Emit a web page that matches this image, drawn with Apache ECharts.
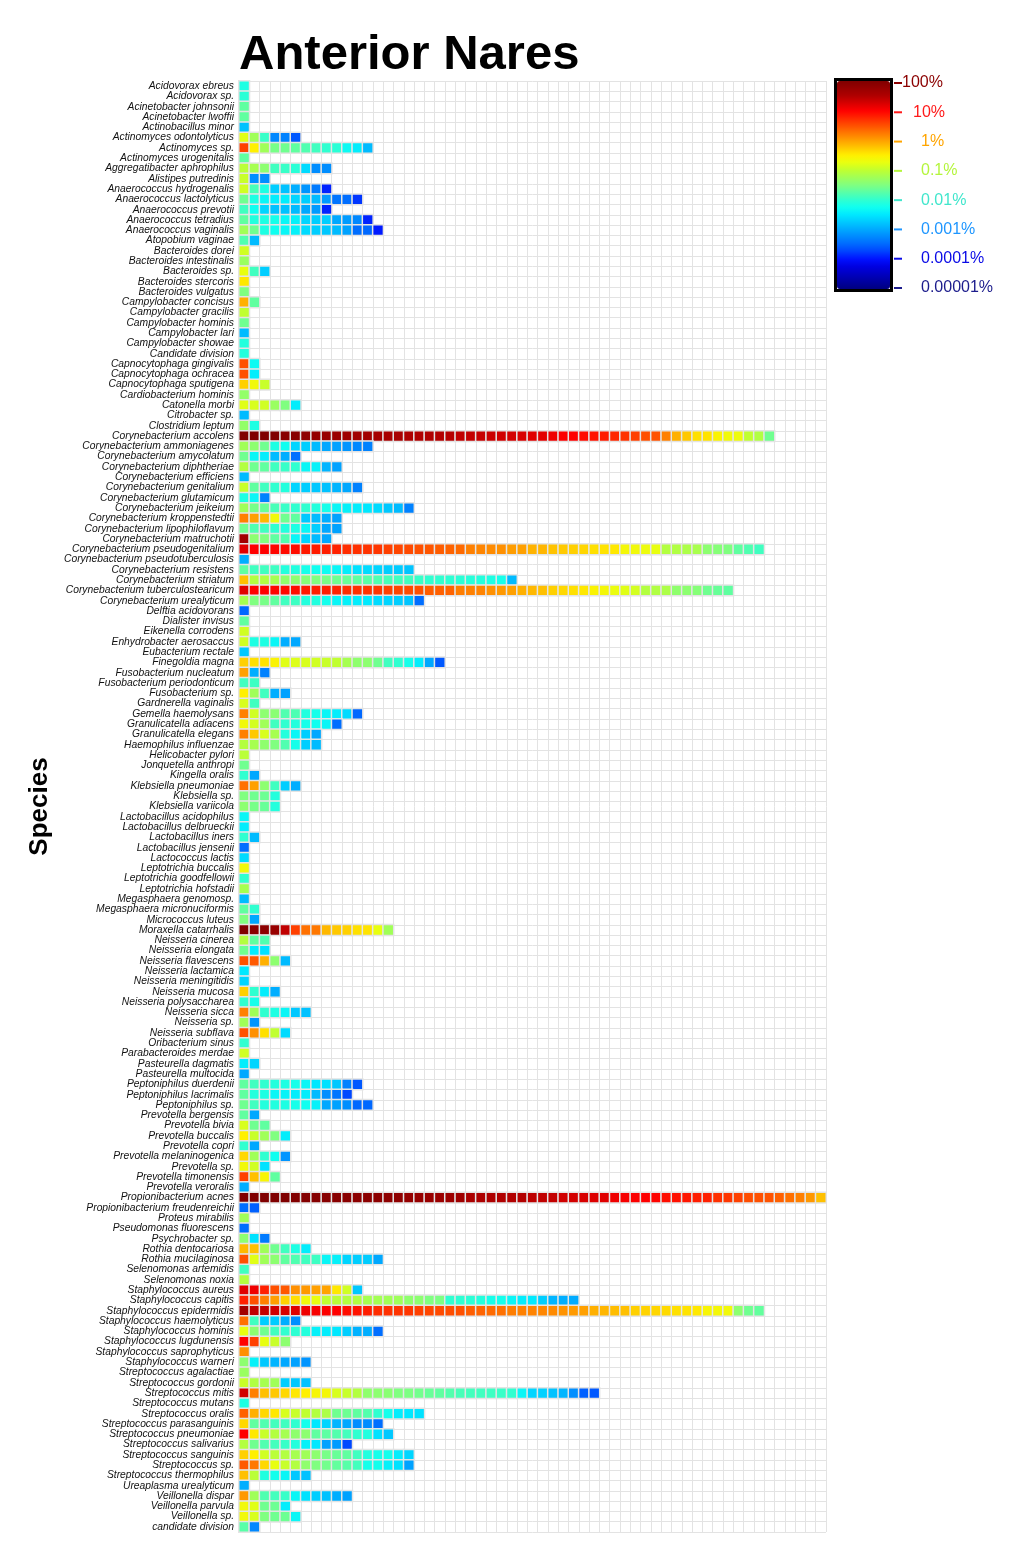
<!DOCTYPE html>
<html><head><meta charset="utf-8">
<script src="https://cdn.jsdelivr.net/npm/echarts@6/dist/echarts.min.js"></script>
<style>html,body{margin:0;padding:0;background:#fff}#c{width:1020px;height:1558px}</style>
</head><body><div id="c"></div>
<script>
// Species (rows, top to bottom)
const species = [
'Acidovorax ebreus','Acidovorax sp.','Acinetobacter johnsonii','Acinetobacter lwoffii','Actinobacillus minor',
'Actinomyces odontolyticus','Actinomyces sp.','Actinomyces urogenitalis','Aggregatibacter aphrophilus','Alistipes putredinis',
'Anaerococcus hydrogenalis','Anaerococcus lactolyticus','Anaerococcus prevotii','Anaerococcus tetradius','Anaerococcus vaginalis',
'Atopobium vaginae','Bacteroides dorei','Bacteroides intestinalis','Bacteroides sp.','Bacteroides stercoris',
'Bacteroides vulgatus','Campylobacter concisus','Campylobacter gracilis','Campylobacter hominis','Campylobacter lari',
'Campylobacter showae','Candidate division','Capnocytophaga gingivalis','Capnocytophaga ochracea','Capnocytophaga sputigena',
'Cardiobacterium hominis','Catonella morbi','Citrobacter sp.','Clostridium leptum','Corynebacterium accolens',
'Corynebacterium ammoniagenes','Corynebacterium amycolatum','Corynebacterium diphtheriae','Corynebacterium efficiens','Corynebacterium genitalium',
'Corynebacterium glutamicum','Corynebacterium jeikeium','Corynebacterium kroppenstedtii','Corynebacterium lipophiloflavum','Corynebacterium matruchotii',
'Corynebacterium pseudogenitalium','Corynebacterium pseudotuberculosis','Corynebacterium resistens','Corynebacterium striatum','Corynebacterium tuberculostearicum',
'Corynebacterium urealyticum','Delftia acidovorans','Dialister invisus','Eikenella corrodens','Enhydrobacter aerosaccus',
'Eubacterium rectale','Finegoldia magna','Fusobacterium nucleatum','Fusobacterium periodonticum','Fusobacterium sp.',
'Gardnerella vaginalis','Gemella haemolysans','Granulicatella adiacens','Granulicatella elegans','Haemophilus influenzae',
'Helicobacter pylori','Jonquetella anthropi','Kingella oralis','Klebsiella pneumoniae','Klebsiella sp.',
'Klebsiella variicola','Lactobacillus acidophilus','Lactobacillus delbrueckii','Lactobacillus iners','Lactobacillus jensenii',
'Lactococcus lactis','Leptotrichia buccalis','Leptotrichia goodfellowii','Leptotrichia hofstadii','Megasphaera genomosp.',
'Megasphaera micronuciformis','Micrococcus luteus','Moraxella catarrhalis','Neisseria cinerea','Neisseria elongata',
'Neisseria flavescens','Neisseria lactamica','Neisseria meningitidis','Neisseria mucosa','Neisseria polysaccharea',
'Neisseria sicca','Neisseria sp.','Neisseria subflava','Oribacterium sinus','Parabacteroides merdae',
'Pasteurella dagmatis','Pasteurella multocida','Peptoniphilus duerdenii','Peptoniphilus lacrimalis','Peptoniphilus sp.',
'Prevotella bergensis','Prevotella bivia','Prevotella buccalis','Prevotella copri','Prevotella melaninogenica',
'Prevotella sp.','Prevotella timonensis','Prevotella veroralis','Propionibacterium acnes','Propionibacterium freudenreichii',
'Proteus mirabilis','Pseudomonas fluorescens','Psychrobacter sp.','Rothia dentocariosa','Rothia mucilaginosa',
'Selenomonas artemidis','Selenomonas noxia','Staphylococcus aureus','Staphylococcus capitis','Staphylococcus epidermidis',
'Staphylococcus haemolyticus','Staphylococcus hominis','Staphylococcus lugdunensis','Staphylococcus saprophyticus','Staphylococcus warneri',
'Streptococcus agalactiae','Streptococcus gordonii','Streptococcus mitis','Streptococcus mutans','Streptococcus oralis',
'Streptococcus parasanguinis','Streptococcus pneumoniae','Streptococcus salivarius','Streptococcus sanguinis','Streptococcus sp.',
'Streptococcus thermophilus','Ureaplasma urealyticum','Veillonella dispar','Veillonella parvula','Veillonella sp.',
'candidate division'
];

// Samples (columns), ranked by abundance within each species
const samples = ['S1','S2','S3','S4','S5','S6','S7','S8','S9','S10','S11','S12','S13','S14','S15','S16','S17','S18','S19','S20',
'S21','S22','S23','S24','S25','S26','S27','S28','S29','S30','S31','S32','S33','S34','S35','S36','S37','S38','S39','S40',
'S41','S42','S43','S44','S45','S46','S47','S48','S49','S50','S51','S52','S53','S54','S55','S56','S57'];

// log10 of relative abundance (%) per species, one entry per sample where detected
const abundance = [
[-2.15],
[-2.05],
[-1.7],
[-1.7],
[-2.8],
[-0.8,-1.25,-1.95,-3.25,-3.3,-3.6],
[0.6,-0.5,-1.25,-1.55,-1.6,-1.7,-1.8,-1.9,-2.0,-2.05,-2.3,-2.45,-2.85],
[-1.7],
[-1.05,-1.2,-1.4,-1.9,-1.95,-2.05,-2.6,-3.2,-3.2],
[-0.95,-3.2,-3.2],
[-0.9,-1.85,-2.15,-2.7,-2.8,-2.95,-3.15,-3.35,-3.9],
[-1.6,-2.15,-2.35,-2.45,-2.45,-2.65,-2.7,-2.85,-3.1,-3.4,-3.45,-3.8],
[-1.9,-2.25,-2.65,-2.8,-2.8,-2.85,-3.0,-3.1,-3.9],
[-1.7,-2.1,-2.15,-2.2,-2.35,-2.4,-2.65,-2.7,-2.7,-3.0,-3.1,-3.25,-3.9],
[-1.25,-1.6,-2.15,-2.25,-2.35,-2.4,-2.6,-2.7,-2.75,-2.85,-3.05,-3.45,-3.5,-3.95],
[-1.8,-2.85],
[-0.9],
[-1.3],
[-0.75,-1.9,-2.7],
[-0.45],
[-1.5],
[-0.1,-1.7],
[-1.0],
[-1.6],
[-2.85],
[-2.1],
[-2.1],
[0.5,-2.3],
[0.5,-2.45],
[-0.3,-0.65,-0.95],
[-1.35],
[-0.8,-0.85,-0.9,-1.3,-1.5,-2.45],
[-2.85],
[-1.35,-2.15],
[2.0,2.0,2.0,2.0,1.92,1.92,1.85,1.78,1.75,1.72,1.68,1.66,1.65,1.6,1.58,1.57,1.52,1.5,1.5,1.48,1.46,1.4,1.38,1.36,1.34,1.3,1.28,1.25,1.2,1.18,1.1,1.02,1.0,0.92,0.88,0.82,0.75,0.68,0.6,0.5,0.48,0.2,-0.1,-0.25,-0.4,-0.42,-0.55,-0.65,-0.68,-1.0,-1.12,-1.6],
[-1.25,-1.4,-1.6,-2.15,-2.25,-2.65,-2.7,-2.85,-3.0,-3.05,-3.15,-3.25,-3.3],
[-1.6,-2.35,-2.45,-2.85,-2.95,-3.45],
[-1.1,-1.6,-1.7,-1.9,-1.95,-2.0,-2.35,-2.4,-2.9,-3.05],
[-2.85],
[-0.95,-1.7,-1.9,-2.0,-2.1,-2.65,-2.7,-2.75,-2.8,-2.9,-3.0,-3.3],
[-2.15,-2.35,-3.3],
[-1.25,-1.55,-1.65,-1.85,-1.95,-2.0,-2.0,-2.1,-2.2,-2.35,-2.4,-2.45,-2.5,-2.6,-2.75,-2.85,-3.3],
[0.2,0.0,-0.15,-0.65,-1.6,-1.7,-2.75,-2.85,-2.95,-3.05],
[-1.6,-1.8,-1.9,-2.0,-2.1,-2.15,-2.35,-2.7,-3.0,-3.05],
[1.65,-1.4,-1.5,-1.7,-1.8,-2.35,-2.65,-2.85,-3.0],
[1.2,1.0,1.0,0.97,0.94,0.92,0.85,0.83,0.81,0.79,0.72,0.7,0.68,0.66,0.6,0.56,0.54,0.5,0.46,0.42,0.38,0.34,0.2,0.17,0.13,0.1,0.02,0.0,-0.12,-0.14,-0.22,-0.26,-0.3,-0.34,-0.4,-0.42,-0.45,-0.62,-0.65,-0.7,-0.75,-1.1,-1.12,-1.15,-1.18,-1.4,-1.45,-1.5,-1.7,-1.8,-1.9],
[-2.95],
[-1.7,-1.9,-1.9,-1.92,-2.1,-2.12,-2.2,-2.25,-2.28,-2.35,-2.45,-2.55,-2.6,-2.65,-2.7,-2.72,-2.78],
[-0.2,-1.1,-1.12,-1.2,-1.38,-1.4,-1.45,-1.5,-1.55,-1.6,-1.65,-1.7,-1.75,-1.8,-1.85,-1.88,-1.9,-1.95,-2.0,-2.0,-2.02,-2.05,-2.08,-2.1,-2.15,-2.2,-2.85],
[1.2,1.0,1.0,0.97,0.95,0.92,0.85,0.82,0.8,0.78,0.72,0.7,0.68,0.66,0.6,0.57,0.53,0.5,0.42,0.4,0.38,0.22,0.2,0.18,0.1,0.05,0.0,-0.1,-0.15,-0.2,-0.3,-0.35,-0.4,-0.45,-0.55,-0.62,-0.72,-0.8,-0.88,-1.1,-1.12,-1.15,-1.38,-1.4,-1.45,-1.6,-1.65,-1.7],
[-1.2,-1.5,-1.55,-1.7,-1.9,-1.92,-2.1,-2.12,-2.22,-2.35,-2.4,-2.45,-2.48,-2.6,-2.65,-2.7,-2.78,-3.45],
[-3.5],
[-1.7],
[-0.9],
[-0.9,-2.15,-2.15,-2.35,-2.95,-3.0],
[-2.75],
[-0.3,-0.4,-0.42,-0.55,-0.8,-0.82,-0.85,-0.9,-0.95,-1.0,-1.2,-1.38,-1.4,-1.6,-1.9,-2.0,-2.2,-2.45,-3.0,-3.6],
[0.0,-2.95,-3.3],
[-1.9,-1.92],
[-0.5,-1.25,-1.9,-2.95,-3.05],
[-0.85,-1.9],
[0.2,-0.9,-1.4,-1.42,-1.8,-1.82,-2.12,-2.2,-2.35,-2.45,-2.6,-3.5],
[-0.65,-0.88,-1.25,-1.9,-2.0,-2.1,-2.2,-2.25,-2.35,-3.45],
[0.2,-0.25,-0.85,-1.2,-2.1,-2.35,-2.7,-3.0],
[-1.1,-1.2,-1.38,-1.5,-1.8,-2.2,-2.7,-2.85],
[-1.05],
[-1.6],
[-2.0,-3.0],
[0.3,0.0,-1.4,-1.9,-2.7,-2.95],
[-1.5,-1.6,-1.62,-2.1],
[-1.4,-1.55,-1.65,-2.1],
[-2.35],
[-2.45],
[-2.0,-2.85],
[-3.45],
[-2.6],
[-0.65],
[-2.0],
[-1.2],
[-2.85],
[-1.7,-2.0],
[-1.5,-3.0],
[2.0,1.9,1.88,1.75,1.4,0.6,0.3,0.25,-0.15,-0.25,-0.3,-0.4,-0.42,-0.75,-1.25],
[-1.1,-1.7,-1.8],
[-1.6,-2.45,-2.55],
[0.5,0.45,-0.1,-1.4,-2.85],
[-2.5],
[-2.65],
[-0.3,-2.0,-2.45,-2.95],
[-2.0,-2.2],
[0.2,-1.25,-2.0,-2.15,-2.35,-2.75,-2.8],
[-1.25,-3.15],
[0.5,0.1,-0.4,-1.0,-2.6],
[-2.0],
[-0.9],
[-2.45,-2.65],
[-3.0],
[-1.7,-1.9,-2.0,-2.1,-2.15,-2.2,-2.35,-2.5,-2.55,-2.75,-3.3,-3.6],
[-1.7,-2.1,-2.15,-2.35,-2.38,-2.45,-2.45,-2.85,-3.2,-3.4,-3.7],
[-1.6,-1.9,-2.1,-2.12,-2.15,-2.2,-2.25,-2.4,-3.0,-3.05,-3.2,-3.5,-3.5],
[-1.7,-3.0],
[-0.85,-1.6,-1.7],
[-0.5,-0.95,-1.25,-1.5,-2.45],
[-2.0,-3.0],
[-0.35,-1.25,-2.0,-2.25,-3.15],
[-0.65,-0.9,-2.55],
[0.6,-0.2,-0.58,-1.7],
[-2.95],
[2.0,2.0,2.0,2.0,2.0,1.98,1.96,1.94,1.92,1.91,1.9,1.88,1.87,1.86,1.85,1.84,1.78,1.76,1.74,1.72,1.7,1.68,1.55,1.53,1.52,1.5,1.49,1.48,1.42,1.4,1.38,1.3,1.28,1.25,1.22,1.2,1.1,1.05,1.02,1.0,0.98,0.92,0.9,0.86,0.82,0.8,0.7,0.66,0.6,0.52,0.5,0.48,0.4,0.3,0.2,0.05,-0.2],
[-3.45,-3.55],
[-1.25],
[-3.45],
[-1.4,-2.55,-3.35],
[-0.15,-0.2,-1.25,-1.6,-1.9,-2.15,-2.45],
[0.5,-0.8,-1.25,-1.4,-1.7,-1.8,-1.9,-1.92,-2.35,-2.4,-2.65,-2.7,-2.72,-3.0],
[-1.9],
[-1.1],
[1.2,1.1,0.8,0.5,0.45,0.1,0.05,0.0,-0.02,-0.45,-0.9,-2.75],
[0.8,0.5,0.2,0.0,-0.3,-0.4,-0.65,-0.75,-1.0,-1.05,-1.1,-1.12,-1.2,-1.22,-1.24,-1.26,-1.38,-1.4,-1.5,-1.52,-2.0,-2.02,-2.05,-2.1,-2.2,-2.22,-2.35,-2.45,-2.48,-2.7,-2.9,-2.95,-2.98],
[1.65,1.4,1.38,1.3,1.25,1.2,1.1,1.05,1.02,1.0,0.92,0.88,0.82,0.72,0.7,0.68,0.66,0.6,0.56,0.54,0.52,0.5,0.42,0.38,0.34,0.3,0.22,0.2,0.18,0.16,0.14,0.08,0.04,0.0,-0.1,-0.14,-0.18,-0.2,-0.3,-0.32,-0.34,-0.36,-0.4,-0.42,-0.45,-0.58,-0.62,-0.65,-1.4,-1.6,-1.68],
[0.3,-1.9,-2.7,-2.72,-2.95,-3.2],
[-0.75,-1.4,-1.6,-1.9,-2.0,-2.02,-2.1,-2.4,-2.45,-2.5,-2.7,-2.92,-2.95,-3.45],
[1.0,0.6,-0.75,-0.95,-1.4],
[0.1],
[-1.4,-2.4,-2.75,-2.9,-3.0,-3.05,-3.15],
[-1.3],
[-0.95,-1.12,-1.2,-1.25,-2.7,-2.75,-2.8],
[1.3,0.2,-0.2,-0.25,-0.35,-0.45,-0.5,-0.6,-0.62,-0.85,-0.95,-1.1,-1.38,-1.4,-1.42,-1.5,-1.52,-1.58,-1.65,-1.7,-1.78,-1.85,-1.88,-1.9,-1.92,-1.95,-2.0,-2.35,-2.65,-2.68,-2.8,-2.9,-3.2,-3.55,-3.6],
[-2.15],
[0.4,-0.1,-0.35,-0.45,-0.85,-0.95,-1.0,-1.1,-1.15,-1.6,-1.62,-1.7,-1.78,-2.0,-2.22,-2.45,-2.5,-2.55],
[-0.35,-1.7,-1.8,-1.88,-1.9,-2.0,-2.22,-2.5,-2.65,-2.9,-3.0,-3.2,-3.22,-3.45],
[1.0,-0.45,-0.95,-1.1,-1.2,-1.38,-1.4,-1.7,-1.72,-1.78,-1.88,-2.0,-2.12,-2.55,-2.75],
[-1.1,-1.6,-1.8,-1.88,-1.95,-2.1,-2.4,-2.5,-3.05,-3.1,-3.7],
[-0.3,-0.5,-0.9,-1.05,-1.1,-1.2,-1.25,-1.4,-1.55,-1.65,-1.7,-1.9,-2.12,-2.2,-2.22,-2.45,-2.65],
[0.45,0.25,-0.35,-0.75,-0.95,-1.1,-1.38,-1.5,-1.58,-1.68,-1.75,-1.88,-2.2,-2.22,-2.4,-2.55,-3.05],
[-0.2,-1.05,-2.12,-2.22,-2.35,-2.75,-2.8],
[-2.95],
[0.05,-1.25,-1.8,-1.88,-1.95,-2.35,-2.55,-2.7,-2.8,-2.95,-3.05],
[-0.65,-0.8,-1.6,-1.62,-2.45],
[-0.65,-0.85,-1.5,-1.6,-1.62,-2.35],
[-1.75,-3.25]
];

// Colour bar: log10(%) ticks, labels and label colours
const barTicks = [-5,-4,-3,-2,-1,0,1,2];
const barTickLabels = ['0.00001%','0.0001%','0.001%','0.01%','0.1%','1%','10%','100%'];
const barTickColors = ['#1c1c8c','#0a0ae6','#1e96ff','#40e6cc','#b4f53c','#ffa500','#ff1a1a','#8b0000'];
const barLabelPad = [19,19,19,19,19,19,11,0];

// Colour scale from log10(%) = -5 to 2, step 0.25
const colorScale = ['#000080','#0000a0','#0000c0','#0000e0','#0010ff','#0040ff','#0068ff','#0088ff','#00a8ff','#00c8ff','#00e8ff','#10fff0','#30ffd0','#58ffa8','#80ff80','#a0ff58','#c0ff30','#e8ff10','#fff000','#ffc800','#ffa000','#ff7800','#ff5000','#ff2800','#ff0000','#d80000','#b00000','#980000','#800000'];

const heat = [];
abundance.forEach((row, r) => row.forEach((v, j) => heat.push([j, r, v])));

const rich = {};
barTicks.forEach((t, i) => {
  rich['t' + i] = {width: 8, height: 2, backgroundColor: barTickColors[i]};
  rich['g' + i] = {width: barLabelPad[i], height: 2};
  rich['l' + i] = {color: barTickColors[i], fontSize: 16, fontFamily: 'Liberation Sans'};
});

const chart = echarts.init(document.getElementById('c'));
chart.setOption({
  animation: false,
  backgroundColor: '#fff',
  title: {text: 'Anterior Nares', left: 239, top: 31, padding: 0,
    textStyle: {fontFamily: 'Liberation Sans', fontSize: 49, fontWeight: 'bold', color: '#000'}},
  grid: [{left: 239, top: 81, width: 587, height: 1451},
         {left: 893, top: 83, width: 1, height: 205}],
  xAxis: [
    {type: 'category', data: samples, gridIndex: 0, position: 'top',
     axisLine: {show: false}, axisTick: {show: false}, axisLabel: {show: false},
     splitLine: {show: true, interval: 0, lineStyle: {color: '#e3e3e3', width: 1}}},
    {type: 'value', gridIndex: 1, show: false, min: 0, max: 1}
  ],
  yAxis: [
    {type: 'category', data: species, inverse: true, gridIndex: 0,
     axisLine: {show: false}, axisTick: {show: false},
     axisLabel: {interval: 0, fontSize: 10.3, fontStyle: 'italic', fontFamily: 'Liberation Sans', color: '#111', margin: 5},
     splitLine: {show: true, interval: 0, lineStyle: {color: '#e3e3e3', width: 1}},
     name: 'Species', nameLocation: 'middle', nameGap: 182,
     nameTextStyle: {fontSize: 26, fontWeight: 'bold', fontFamily: 'Liberation Sans', color: '#000'}},
    {type: 'value', gridIndex: 1, min: -5, max: 2, interval: 1, position: 'right',
     axisLine: {show: false}, axisTick: {show: false}, splitLine: {show: false},
     axisLabel: {margin: 0, align: 'left', rich: rich,
       formatter: v => { const i = barTicks.indexOf(Math.round(v)); return '{t' + i + '|}{g' + i + '|}{l' + i + '|' + barTickLabels[i] + '}'; }}}
  ],
  visualMap: {type: 'continuous', min: -5, max: 2, seriesIndex: 0, calculable: false, hoverLink: false,
    left: 837, top: 81, itemWidth: 53, itemHeight: 208, padding: 0,
    inRange: {color: colorScale}},
  series: [{type: 'heatmap', data: heat, xAxisIndex: 0, yAxisIndex: 0, progressive: 0,
    itemStyle: {borderColor: '#e3e3e3', borderWidth: 1.5}, emphasis: {disabled: true}}],
  graphic: [{type: 'rect', shape: {x: 835.5, y: 79.5, width: 56, height: 211},
    style: {fill: 'none', stroke: '#000', lineWidth: 3}, z: 100}]
});
</script></body></html>
